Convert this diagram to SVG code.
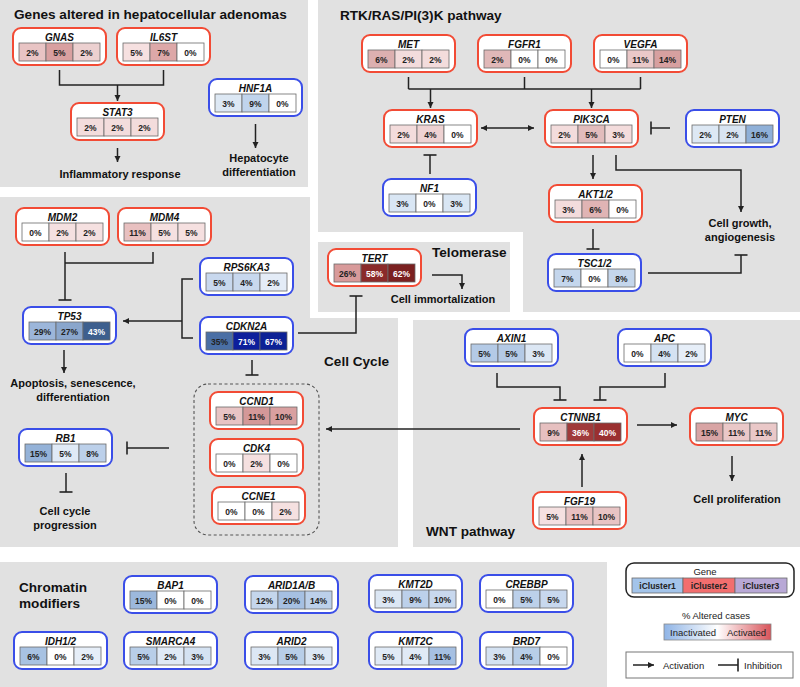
<svg xmlns="http://www.w3.org/2000/svg" width="800" height="687" viewBox="0 0 800 687">
<style>
.pn{fill:#e1e1e1}
.nr{fill:#fff;stroke:#f24b35;stroke-width:2}
.nb{fill:#fff;stroke:#3a4ee8;stroke-width:2}
.gn{font:italic bold 10px "Liberation Sans",Arial,sans-serif;text-anchor:middle;fill:#111}
.pc{font:bold 8.5px "Liberation Sans",Arial,sans-serif;text-anchor:middle;fill:#222}
.pw{fill:#fff}
.c{stroke:#6a6a6a;stroke-width:0.8}
.ln{fill:none;stroke:#222;stroke-width:1.5}
.ti{font:bold 13.6px "Liberation Sans",Arial,sans-serif;fill:#111}
.lb{font:bold 11px "Liberation Sans",Arial,sans-serif;text-anchor:middle;fill:#111}
.lg{font:9.5px "Liberation Sans",Arial,sans-serif;fill:#222}
.lgb{font:bold 8.5px "Liberation Sans",Arial,sans-serif;text-anchor:middle;fill:#222}
</style>
<defs>
<marker id="ar" markerUnits="userSpaceOnUse" markerWidth="7" markerHeight="7" refX="6" refY="3.5" orient="auto-start-reverse"><path d="M0,0.5 L6,3.5 L0,6.5 z" fill="#222"/></marker>
<marker id="br" markerUnits="userSpaceOnUse" markerWidth="3" markerHeight="14" refX="1.5" refY="7" orient="auto"><path d="M1.5,0.5 L1.5,13.5" stroke="#222" stroke-width="1.6"/></marker>
<linearGradient id="grad" x1="0" x2="1" y1="0" y2="0"><stop offset="0" stop-color="#8fb4e6"/><stop offset="0.5" stop-color="#ffffff"/><stop offset="1" stop-color="#d9545a"/></linearGradient>
</defs>
<rect width="800" height="687" fill="#fff"/>
<g id="panels">
<rect class="pn" x="0" y="0" width="308" height="187"/>
<path class="pn" d="M318,0 H800 V312 H523 V232 H318 z"/>
<rect class="pn" x="318" y="242" width="192" height="70"/>
<path class="pn" d="M0,197 H310 V318 H398 V547 H0 z"/>
<rect class="pn" x="413" y="320" width="387" height="227"/>
<rect class="pn" x="0" y="562" width="607" height="125"/>
</g>
<g id="titles">
<text class="ti" x="14" y="19">Genes altered in hepatocellular adenomas</text>
<text class="ti" x="340" y="20">RTK/RAS/PI(3)K pathway</text>
<text class="ti" x="432" y="257">Telomerase</text>
<text class="ti" x="324" y="366">Cell Cycle</text>
<text class="ti" x="426" y="536">WNT pathway</text>
<text class="ti" x="19" y="592">Chromatin</text>
<text class="ti" x="19" y="608">modifiers</text>
</g>
<g id="labels">
<text class="lb" x="120" y="178">Inflammatory response</text>
<text class="lb" x="259" y="162">Hepatocyte</text>
<text class="lb" x="259" y="176">differentiation</text>
<text class="lb" x="740" y="227">Cell growth,</text>
<text class="lb" x="740" y="241">angiogenesis</text>
<text class="lb" x="443" y="303">Cell immortalization</text>
<text class="lb" x="73" y="387">Apoptosis, senescence,</text>
<text class="lb" x="73" y="401">differentiation</text>
<text class="lb" x="65" y="515">Cell cycle</text>
<text class="lb" x="65" y="529">progression</text>
<text class="lb" x="737" y="503">Cell proliferation</text>
</g>
<g id="connectors">
<path class="ln" d="M59.5,70 V85 H163.5 V70"/>
<path class="ln" marker-end="url(#ar)" d="M117.5,85 V101"/>
<path class="ln" marker-end="url(#ar)" d="M117.5,148 V162"/>
<path class="ln" marker-end="url(#ar)" d="M255.5,124 V148"/>
<path class="ln" d="M408.5,77 V89 M524.5,77 V89 M640.5,77 V89 M408.5,89 H640.5"/>
<path class="ln" marker-end="url(#ar)" d="M430.5,89 V108"/>
<path class="ln" marker-end="url(#ar)" d="M591.5,89 V108"/>
<path class="ln" marker-start="url(#ar)" marker-end="url(#ar)" d="M481,128 H534"/>
<path class="ln" marker-end="url(#br)" d="M670,128 H651"/>
<path class="ln" marker-end="url(#br)" d="M430,174 V155"/>
<path class="ln" marker-end="url(#ar)" d="M593,155 V179"/>
<path class="ln" marker-end="url(#ar)" d="M616,155 V170 H741 V212"/>
<path class="ln" marker-end="url(#br)" d="M593,229 V249"/>
<path class="ln" marker-end="url(#br)" d="M648,273 H741 V255"/>
<path class="ln" marker-end="url(#ar)" d="M432,275 H462 V289"/>
<path class="ln" marker-end="url(#br)" d="M298,333 H356 V296"/>
<path class="ln" d="M153,252 V263 H65"/>
<path class="ln" marker-end="url(#br)" d="M65,252 V300"/>
<path class="ln" d="M193,279 H182 V338 H193"/>
<path class="ln" marker-end="url(#ar)" d="M182,321 H123"/>
<path class="ln" marker-end="url(#ar)" d="M64,350 V373"/>
<path class="ln" marker-end="url(#br)" d="M252,360 V375"/>
<rect x="194" y="384" width="125" height="151" rx="14" fill="none" stroke="#555" stroke-width="1.1" stroke-dasharray="3,2.5"/>
<path class="ln" marker-end="url(#br)" d="M169,448 H127"/>
<path class="ln" marker-end="url(#br)" d="M66,473 V492"/>
<path class="ln" marker-end="url(#ar)" d="M520,429 H326"/>
<path class="ln" marker-end="url(#br)" d="M497,373 V387 H560 V400"/>
<path class="ln" marker-end="url(#br)" d="M665,373 V387 H600 V400"/>
<path class="ln" marker-end="url(#ar)" d="M637,425 H677"/>
<path class="ln" marker-end="url(#ar)" d="M732,456 V481"/>
<path class="ln" marker-end="url(#ar)" d="M582,487 V454"/>
</g>
<g id="GNAS" transform="translate(13,28)"><rect class="nr" width="93" height="37" rx="8"/><text class="gn" x="46.5" y="12.5">GNAS</text><rect class="c" x="6" y="15" width="27" height="18" fill="#e8c4c4"/><rect class="c" x="33" y="15" width="27" height="18" fill="#d9a0a0"/><rect class="c" x="60" y="15" width="27" height="18" fill="#ecd0d0"/><text class="pc" x="19.5" y="27.5">2%</text><text class="pc" x="46.5" y="27.5">5%</text><text class="pc" x="73.5" y="27.5">2%</text></g>
<g id="IL6ST" transform="translate(117,28)"><rect class="nr" width="93" height="37" rx="8"/><text class="gn" x="46.5" y="12.5">IL6ST</text><rect class="c" x="6" y="15" width="27" height="18" fill="#f6e0e0"/><rect class="c" x="33" y="15" width="27" height="18" fill="#dda8a8"/><rect class="c" x="60" y="15" width="27" height="18" fill="#ffffff"/><text class="pc" x="19.5" y="27.5">5%</text><text class="pc" x="46.5" y="27.5">7%</text><text class="pc" x="73.5" y="27.5">0%</text></g>
<g id="STAT3" transform="translate(71,103)"><rect class="nr" width="93" height="37" rx="8"/><text class="gn" x="46.5" y="12.5">STAT3</text><rect class="c" x="6" y="15" width="27" height="18" fill="#f3dcdc"/><rect class="c" x="33" y="15" width="27" height="18" fill="#f3dcdc"/><rect class="c" x="60" y="15" width="27" height="18" fill="#f3dcdc"/><text class="pc" x="19.5" y="27.5">2%</text><text class="pc" x="46.5" y="27.5">2%</text><text class="pc" x="73.5" y="27.5">2%</text></g>
<g id="HNF1A" transform="translate(209,79)"><rect class="nb" width="93" height="37" rx="8"/><text class="gn" x="46.5" y="12.5">HNF1A</text><rect class="c" x="6" y="15" width="27" height="18" fill="#dde8f4"/><rect class="c" x="33" y="15" width="27" height="18" fill="#c0d4ec"/><rect class="c" x="60" y="15" width="27" height="18" fill="#ffffff"/><text class="pc" x="19.5" y="27.5">3%</text><text class="pc" x="46.5" y="27.5">9%</text><text class="pc" x="73.5" y="27.5">0%</text></g>
<g id="MET" transform="translate(362,35)"><rect class="nr" width="93" height="37" rx="8"/><text class="gn" x="46.5" y="12.5">MET</text><rect class="c" x="6" y="15" width="27" height="18" fill="#dcb0b0"/><rect class="c" x="33" y="15" width="27" height="18" fill="#f3dcdc"/><rect class="c" x="60" y="15" width="27" height="18" fill="#f3dcdc"/><text class="pc" x="19.5" y="27.5">6%</text><text class="pc" x="46.5" y="27.5">2%</text><text class="pc" x="73.5" y="27.5">2%</text></g>
<g id="FGFR1" transform="translate(478,35)"><rect class="nr" width="93" height="37" rx="8"/><text class="gn" x="46.5" y="12.5">FGFR1</text><rect class="c" x="6" y="15" width="27" height="18" fill="#e0b8b8"/><rect class="c" x="33" y="15" width="27" height="18" fill="#ffffff"/><rect class="c" x="60" y="15" width="27" height="18" fill="#ffffff"/><text class="pc" x="19.5" y="27.5">2%</text><text class="pc" x="46.5" y="27.5">0%</text><text class="pc" x="73.5" y="27.5">0%</text></g>
<g id="VEGFA" transform="translate(594,35)"><rect class="nr" width="93" height="37" rx="8"/><text class="gn" x="46.5" y="12.5">VEGFA</text><rect class="c" x="6" y="15" width="27" height="18" fill="#ffffff"/><rect class="c" x="33" y="15" width="27" height="18" fill="#eac8c8"/><rect class="c" x="60" y="15" width="27" height="18" fill="#d7a0a0"/><text class="pc" x="19.5" y="27.5">0%</text><text class="pc" x="46.5" y="27.5">11%</text><text class="pc" x="73.5" y="27.5">14%</text></g>
<g id="KRAS" transform="translate(384,110)"><rect class="nr" width="93" height="37" rx="8"/><text class="gn" x="46.5" y="12.5">KRAS</text><rect class="c" x="6" y="15" width="27" height="18" fill="#f3dcdc"/><rect class="c" x="33" y="15" width="27" height="18" fill="#eed2d2"/><rect class="c" x="60" y="15" width="27" height="18" fill="#ffffff"/><text class="pc" x="19.5" y="27.5">2%</text><text class="pc" x="46.5" y="27.5">4%</text><text class="pc" x="73.5" y="27.5">0%</text></g>
<g id="PIK3CA" transform="translate(545,110)"><rect class="nr" width="93" height="37" rx="8"/><text class="gn" x="46.5" y="12.5">PIK3CA</text><rect class="c" x="6" y="15" width="27" height="18" fill="#f3dcdc"/><rect class="c" x="33" y="15" width="27" height="18" fill="#e2bcbc"/><rect class="c" x="60" y="15" width="27" height="18" fill="#f3dcdc"/><text class="pc" x="19.5" y="27.5">2%</text><text class="pc" x="46.5" y="27.5">5%</text><text class="pc" x="73.5" y="27.5">3%</text></g>
<g id="PTEN" transform="translate(686,110)"><rect class="nb" width="93" height="37" rx="8"/><text class="gn" x="46.5" y="12.5">PTEN</text><rect class="c" x="6" y="15" width="27" height="18" fill="#dde8f4"/><rect class="c" x="33" y="15" width="27" height="18" fill="#d8e4f2"/><rect class="c" x="60" y="15" width="27" height="18" fill="#8fb0d8"/><text class="pc" x="19.5" y="27.5">2%</text><text class="pc" x="46.5" y="27.5">2%</text><text class="pc" x="73.5" y="27.5">16%</text></g>
<g id="NF1" transform="translate(383,179)"><rect class="nb" width="93" height="37" rx="8"/><text class="gn" x="46.5" y="12.5">NF1</text><rect class="c" x="6" y="15" width="27" height="18" fill="#d9e6f4"/><rect class="c" x="33" y="15" width="27" height="18" fill="#ffffff"/><rect class="c" x="60" y="15" width="27" height="18" fill="#d9e6f4"/><text class="pc" x="19.5" y="27.5">3%</text><text class="pc" x="46.5" y="27.5">0%</text><text class="pc" x="73.5" y="27.5">3%</text></g>
<g id="AKT1_2" transform="translate(549,185)"><rect class="nr" width="93" height="37" rx="8"/><text class="gn" x="46.5" y="12.5">AKT1/2</text><rect class="c" x="6" y="15" width="27" height="18" fill="#f3dcdc"/><rect class="c" x="33" y="15" width="27" height="18" fill="#e0b4b4"/><rect class="c" x="60" y="15" width="27" height="18" fill="#ffffff"/><text class="pc" x="19.5" y="27.5">3%</text><text class="pc" x="46.5" y="27.5">6%</text><text class="pc" x="73.5" y="27.5">0%</text></g>
<g id="TSC1_2" transform="translate(548,254)"><rect class="nb" width="93" height="37" rx="8"/><text class="gn" x="46.5" y="12.5">TSC1/2</text><rect class="c" x="6" y="15" width="27" height="18" fill="#c4d6ec"/><rect class="c" x="33" y="15" width="27" height="18" fill="#ffffff"/><rect class="c" x="60" y="15" width="27" height="18" fill="#c4d6ec"/><text class="pc" x="19.5" y="27.5">7%</text><text class="pc" x="46.5" y="27.5">0%</text><text class="pc" x="73.5" y="27.5">8%</text></g>
<g id="TERT" transform="translate(328,249)"><rect class="nr" width="93" height="37" rx="8"/><text class="gn" x="46.5" y="12.5">TERT</text><rect class="c" x="6" y="15" width="27" height="18" fill="#d89a9a"/><rect class="c" x="33" y="15" width="27" height="18" fill="#8a2a2a"/><rect class="c" x="60" y="15" width="27" height="18" fill="#7a2020"/><text class="pc" x="19.5" y="27.5">26%</text><text class="pc pw" x="46.5" y="27.5">58%</text><text class="pc pw" x="73.5" y="27.5">62%</text></g>
<g id="MDM2" transform="translate(16,208)"><rect class="nr" width="93" height="37" rx="8"/><text class="gn" x="46.5" y="12.5">MDM2</text><rect class="c" x="6" y="15" width="27" height="18" fill="#ffffff"/><rect class="c" x="33" y="15" width="27" height="18" fill="#f5e0e0"/><rect class="c" x="60" y="15" width="27" height="18" fill="#f5e0e0"/><text class="pc" x="19.5" y="27.5">0%</text><text class="pc" x="46.5" y="27.5">2%</text><text class="pc" x="73.5" y="27.5">2%</text></g>
<g id="MDM4" transform="translate(118,208)"><rect class="nr" width="93" height="37" rx="8"/><text class="gn" x="46.5" y="12.5">MDM4</text><rect class="c" x="6" y="15" width="27" height="18" fill="#e8c0c0"/><rect class="c" x="33" y="15" width="27" height="18" fill="#f5e0e0"/><rect class="c" x="60" y="15" width="27" height="18" fill="#f5e0e0"/><text class="pc" x="19.5" y="27.5">11%</text><text class="pc" x="46.5" y="27.5">5%</text><text class="pc" x="73.5" y="27.5">5%</text></g>
<g id="RPS6KA3" transform="translate(200,258)"><rect class="nb" width="93" height="37" rx="8"/><text class="gn" x="46.5" y="12.5">RPS6KA3</text><rect class="c" x="6" y="15" width="27" height="18" fill="#c8d8ee"/><rect class="c" x="33" y="15" width="27" height="18" fill="#c8d8ee"/><rect class="c" x="60" y="15" width="27" height="18" fill="#e4ecf7"/><text class="pc" x="19.5" y="27.5">5%</text><text class="pc" x="46.5" y="27.5">4%</text><text class="pc" x="73.5" y="27.5">2%</text></g>
<g id="TP53" transform="translate(23,307)"><rect class="nb" width="93" height="37" rx="8"/><text class="gn" x="46.5" y="12.5">TP53</text><rect class="c" x="6" y="15" width="27" height="18" fill="#9cb6da"/><rect class="c" x="33" y="15" width="27" height="18" fill="#8aa6cc"/><rect class="c" x="60" y="15" width="27" height="18" fill="#3d5f8e"/><text class="pc" x="19.5" y="27.5">29%</text><text class="pc" x="46.5" y="27.5">27%</text><text class="pc pw" x="73.5" y="27.5">43%</text></g>
<g id="CDKN2A" transform="translate(200,317)"><rect class="nb" width="93" height="37" rx="8"/><text class="gn" x="46.5" y="12.5">CDKN2A</text><rect class="c" x="6" y="15" width="27" height="18" fill="#4a6fa5"/><rect class="c" x="33" y="15" width="27" height="18" fill="#0d1f9c"/><rect class="c" x="60" y="15" width="27" height="18" fill="#0c2196"/><text class="pc" x="19.5" y="27.5" fill="#1a2a44">35%</text><text class="pc pw" x="46.5" y="27.5">71%</text><text class="pc pw" x="73.5" y="27.5">67%</text></g>
<g id="CCND1" transform="translate(210,392)"><rect class="nr" width="93" height="37" rx="8"/><text class="gn" x="46.5" y="12.5">CCND1</text><rect class="c" x="6" y="15" width="27" height="18" fill="#e8c4c4"/><rect class="c" x="33" y="15" width="27" height="18" fill="#d49898"/><rect class="c" x="60" y="15" width="27" height="18" fill="#d9a0a0"/><text class="pc" x="19.5" y="27.5">5%</text><text class="pc" x="46.5" y="27.5">11%</text><text class="pc" x="73.5" y="27.5">10%</text></g>
<g id="CDK4" transform="translate(210,439)"><rect class="nr" width="93" height="37" rx="8"/><text class="gn" x="46.5" y="12.5">CDK4</text><rect class="c" x="6" y="15" width="27" height="18" fill="#ffffff"/><rect class="c" x="33" y="15" width="27" height="18" fill="#f5e0e0"/><rect class="c" x="60" y="15" width="27" height="18" fill="#ffffff"/><text class="pc" x="19.5" y="27.5">0%</text><text class="pc" x="46.5" y="27.5">2%</text><text class="pc" x="73.5" y="27.5">0%</text></g>
<g id="CCNE1" transform="translate(212,487)"><rect class="nr" width="93" height="37" rx="8"/><text class="gn" x="46.5" y="12.5">CCNE1</text><rect class="c" x="6" y="15" width="27" height="18" fill="#ffffff"/><rect class="c" x="33" y="15" width="27" height="18" fill="#ffffff"/><rect class="c" x="60" y="15" width="27" height="18" fill="#f5e0e0"/><text class="pc" x="19.5" y="27.5">0%</text><text class="pc" x="46.5" y="27.5">0%</text><text class="pc" x="73.5" y="27.5">2%</text></g>
<g id="RB1" transform="translate(19,429)"><rect class="nb" width="93" height="37" rx="8"/><text class="gn" x="46.5" y="12.5">RB1</text><rect class="c" x="6" y="15" width="27" height="18" fill="#94b2d8"/><rect class="c" x="33" y="15" width="27" height="18" fill="#e0eaf6"/><rect class="c" x="60" y="15" width="27" height="18" fill="#bcd0ea"/><text class="pc" x="19.5" y="27.5">15%</text><text class="pc" x="46.5" y="27.5">5%</text><text class="pc" x="73.5" y="27.5">8%</text></g>
<g id="AXIN1" transform="translate(465,329)"><rect class="nb" width="93" height="37" rx="8"/><text class="gn" x="46.5" y="12.5">AXIN1</text><rect class="c" x="6" y="15" width="27" height="18" fill="#b4cae6"/><rect class="c" x="33" y="15" width="27" height="18" fill="#b4cae6"/><rect class="c" x="60" y="15" width="27" height="18" fill="#dce7f4"/><text class="pc" x="19.5" y="27.5">5%</text><text class="pc" x="46.5" y="27.5">5%</text><text class="pc" x="73.5" y="27.5">3%</text></g>
<g id="APC" transform="translate(618,329)"><rect class="nb" width="93" height="37" rx="8"/><text class="gn" x="46.5" y="12.5">APC</text><rect class="c" x="6" y="15" width="27" height="18" fill="#ffffff"/><rect class="c" x="33" y="15" width="27" height="18" fill="#d4e2f2"/><rect class="c" x="60" y="15" width="27" height="18" fill="#e6eef8"/><text class="pc" x="19.5" y="27.5">0%</text><text class="pc" x="46.5" y="27.5">4%</text><text class="pc" x="73.5" y="27.5">2%</text></g>
<g id="CTNNB1" transform="translate(534,408)"><rect class="nr" width="93" height="37" rx="8"/><text class="gn" x="46.5" y="12.5">CTNNB1</text><rect class="c" x="6" y="15" width="27" height="18" fill="#e6c0c0"/><rect class="c" x="33" y="15" width="27" height="18" fill="#a03a3a"/><rect class="c" x="60" y="15" width="27" height="18" fill="#9a3030"/><text class="pc" x="19.5" y="27.5">9%</text><text class="pc pw" x="46.5" y="27.5">36%</text><text class="pc pw" x="73.5" y="27.5">40%</text></g>
<g id="MYC" transform="translate(690,408)"><rect class="nr" width="93" height="37" rx="8"/><text class="gn" x="46.5" y="12.5">MYC</text><rect class="c" x="6" y="15" width="27" height="18" fill="#d8a4a4"/><rect class="c" x="33" y="15" width="27" height="18" fill="#eac8c8"/><rect class="c" x="60" y="15" width="27" height="18" fill="#eac8c8"/><text class="pc" x="19.5" y="27.5">15%</text><text class="pc" x="46.5" y="27.5">11%</text><text class="pc" x="73.5" y="27.5">11%</text></g>
<g id="FGF19" transform="translate(533,492)"><rect class="nr" width="93" height="37" rx="8"/><text class="gn" x="46.5" y="12.5">FGF19</text><rect class="c" x="6" y="15" width="27" height="18" fill="#f5e0e0"/><rect class="c" x="33" y="15" width="27" height="18" fill="#e8c0c0"/><rect class="c" x="60" y="15" width="27" height="18" fill="#e8c4c4"/><text class="pc" x="19.5" y="27.5">5%</text><text class="pc" x="46.5" y="27.5">11%</text><text class="pc" x="73.5" y="27.5">10%</text></g>
<g id="BAP1" transform="translate(124,576)"><rect class="nb" width="93" height="37" rx="8"/><text class="gn" x="46.5" y="12.5">BAP1</text><rect class="c" x="6" y="15" width="27" height="18" fill="#9cb8dc"/><rect class="c" x="33" y="15" width="27" height="18" fill="#ffffff"/><rect class="c" x="60" y="15" width="27" height="18" fill="#ffffff"/><text class="pc" x="19.5" y="27.5">15%</text><text class="pc" x="46.5" y="27.5">0%</text><text class="pc" x="73.5" y="27.5">0%</text></g>
<g id="ARID1A_B" transform="translate(245,576)"><rect class="nb" width="93" height="37" rx="8"/><text class="gn" x="46.5" y="12.5">ARID1A/B</text><rect class="c" x="6" y="15" width="27" height="18" fill="#c4d6ec"/><rect class="c" x="33" y="15" width="27" height="18" fill="#a6c0e2"/><rect class="c" x="60" y="15" width="27" height="18" fill="#bcd0ea"/><text class="pc" x="19.5" y="27.5">12%</text><text class="pc" x="46.5" y="27.5">20%</text><text class="pc" x="73.5" y="27.5">14%</text></g>
<g id="IDH1_2" transform="translate(14,632)"><rect class="nb" width="93" height="37" rx="8"/><text class="gn" x="46.5" y="12.5">IDH1/2</text><rect class="c" x="6" y="15" width="27" height="18" fill="#a8c2e2"/><rect class="c" x="33" y="15" width="27" height="18" fill="#ffffff"/><rect class="c" x="60" y="15" width="27" height="18" fill="#e6eef8"/><text class="pc" x="19.5" y="27.5">6%</text><text class="pc" x="46.5" y="27.5">0%</text><text class="pc" x="73.5" y="27.5">2%</text></g>
<g id="SMARCA4" transform="translate(124,632)"><rect class="nb" width="93" height="37" rx="8"/><text class="gn" x="46.5" y="12.5">SMARCA4</text><rect class="c" x="6" y="15" width="27" height="18" fill="#b8cee8"/><rect class="c" x="33" y="15" width="27" height="18" fill="#e0eaf6"/><rect class="c" x="60" y="15" width="27" height="18" fill="#d4e2f2"/><text class="pc" x="19.5" y="27.5">5%</text><text class="pc" x="46.5" y="27.5">2%</text><text class="pc" x="73.5" y="27.5">3%</text></g>
<g id="ARID2" transform="translate(245,632)"><rect class="nb" width="93" height="37" rx="8"/><text class="gn" x="46.5" y="12.5">ARID2</text><rect class="c" x="6" y="15" width="27" height="18" fill="#dce7f4"/><rect class="c" x="33" y="15" width="27" height="18" fill="#b8cee8"/><rect class="c" x="60" y="15" width="27" height="18" fill="#dce7f4"/><text class="pc" x="19.5" y="27.5">3%</text><text class="pc" x="46.5" y="27.5">5%</text><text class="pc" x="73.5" y="27.5">3%</text></g>
<g id="KMT2D" transform="translate(369,575)"><rect class="nb" width="93" height="37" rx="8"/><text class="gn" x="46.5" y="12.5">KMT2D</text><rect class="c" x="6" y="15" width="27" height="18" fill="#dce7f4"/><rect class="c" x="33" y="15" width="27" height="18" fill="#bcd0ea"/><rect class="c" x="60" y="15" width="27" height="18" fill="#c8d8ee"/><text class="pc" x="19.5" y="27.5">3%</text><text class="pc" x="46.5" y="27.5">9%</text><text class="pc" x="73.5" y="27.5">10%</text></g>
<g id="CREBBP" transform="translate(480,575)"><rect class="nb" width="93" height="37" rx="8"/><text class="gn" x="46.5" y="12.5">CREBBP</text><rect class="c" x="6" y="15" width="27" height="18" fill="#ffffff"/><rect class="c" x="33" y="15" width="27" height="18" fill="#bcd0ea"/><rect class="c" x="60" y="15" width="27" height="18" fill="#c8d8ee"/><text class="pc" x="19.5" y="27.5">0%</text><text class="pc" x="46.5" y="27.5">5%</text><text class="pc" x="73.5" y="27.5">5%</text></g>
<g id="KMT2C" transform="translate(369,632)"><rect class="nb" width="93" height="37" rx="8"/><text class="gn" x="46.5" y="12.5">KMT2C</text><rect class="c" x="6" y="15" width="27" height="18" fill="#e0eaf6"/><rect class="c" x="33" y="15" width="27" height="18" fill="#e0eaf6"/><rect class="c" x="60" y="15" width="27" height="18" fill="#a6c0e2"/><text class="pc" x="19.5" y="27.5">5%</text><text class="pc" x="46.5" y="27.5">4%</text><text class="pc" x="73.5" y="27.5">11%</text></g>
<g id="BRD7" transform="translate(480,632)"><rect class="nb" width="93" height="37" rx="8"/><text class="gn" x="46.5" y="12.5">BRD7</text><rect class="c" x="6" y="15" width="27" height="18" fill="#d4e2f2"/><rect class="c" x="33" y="15" width="27" height="18" fill="#b8cee8"/><rect class="c" x="60" y="15" width="27" height="18" fill="#ffffff"/><text class="pc" x="19.5" y="27.5">3%</text><text class="pc" x="46.5" y="27.5">4%</text><text class="pc" x="73.5" y="27.5">0%</text></g>
<g id="legend">
<rect x="626" y="563" width="168" height="34" rx="8" fill="#fff" stroke="#222" stroke-width="1.5"/>
<text class="lg" x="705" y="575" text-anchor="middle">Gene</text>
<rect class="c" x="632" y="578" width="51" height="15" fill="#a3c4ea"/>
<rect class="c" x="683" y="578" width="52" height="15" fill="#f26e6e"/>
<rect class="c" x="735" y="578" width="52" height="15" fill="#b8a8d6"/>
<text class="lgb" x="657.5" y="588.5">iCluster1</text>
<text class="lgb" x="709" y="588.5">iCluster2</text>
<text class="lgb" x="761" y="588.5">iCluster3</text>
<text class="lg" x="716" y="619" text-anchor="middle">% Altered cases</text>
<rect x="664" y="624" width="107" height="16" fill="url(#grad)" stroke="#888" stroke-width="0.8"/>
<text class="lg" x="670" y="635.5">Inactivated</text>
<text class="lg" x="766" y="635.5" text-anchor="end">Activated</text>
<rect x="626" y="652" width="167" height="26" fill="#fff" stroke="#777" stroke-width="1"/>
<path class="ln" marker-end="url(#ar)" d="M633,665 H654"/>
<text class="lg" x="663" y="668.5">Activation</text>
<path class="ln" marker-end="url(#br)" d="M718,665 H738"/>
<text class="lg" x="744" y="668.5">Inhibition</text>
</g>
</svg>
